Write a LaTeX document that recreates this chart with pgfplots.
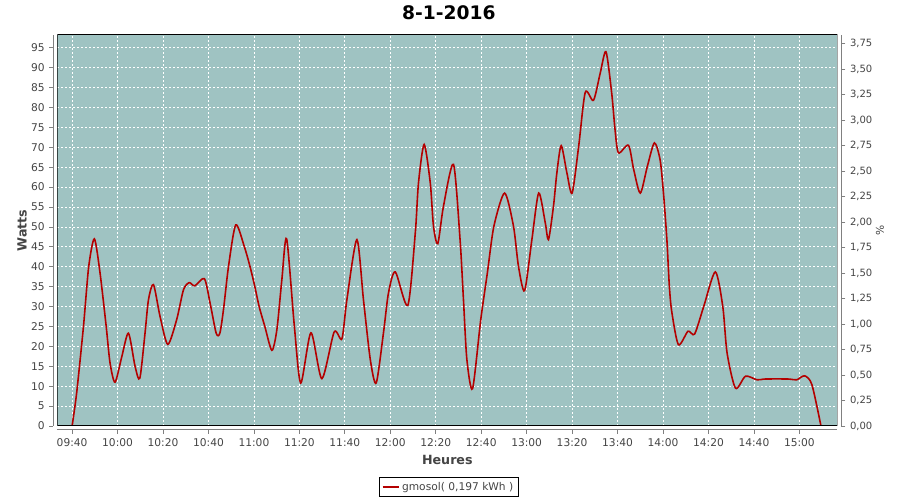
\documentclass[border=0pt]{standalone}
\usepackage{pgfplots}
\usepackage{pgfplotstable}
\pgfplotsset{compat=1.18}
\usepackage{fontspec}
\setmainfont{DejaVu Sans}
\definecolor{bg}{RGB}{159,195,194}
\definecolor{ln}{RGB}{180,0,0}
\definecolor{tk}{RGB}{68,68,68}
\definecolor{axg}{RGB}{128,128,128}

\pgfplotstableread{
t w
580 0
582 8.3
585 25
587.3 40
589.8 47
592.3 38.4
595 25
596.7 15.8
598.9 11
601.9 17.5
604.8 23.3
607.7 15
609.8 12
612.1 23.4
613.6 31.7
615.8 35.5
618.7 27.5
622.1 20.5
626 26.7
629 34.2
631.5 36
634 35.2
638.2 37
640.7 30.9
643.4 23.3
645 23.3
646.6 29.2
648.8 40
652 50.5
655.8 45
658.3 40
660.4 35
662.3 30
664.8 25
667.9 19
670.1 24.2
672.3 36.8
674.4 47
677.8 25
680.6 10.8
685.1 23.4
689.9 11.9
695.3 23.6
698.7 21.9
700.9 31.7
705.3 46.8
708.2 31.7
711.2 16.7
713.8 10.8
717 23.4
719.2 33.4
722.2 38.7
727.7 30.3
731 48.5
732.4 61
734.9 70.7
737.6 61
739 50.2
740.9 45.8
743.4 55.2
747.8 65.7
750.7 46.8
752.2 31.7
753.7 16.7
756.2 9.4
759.8 26.7
762.7 38.4
765.6 50.2
770.3 58.5
774.2 50.2
776.4 40.1
779.1 34
782.3 46.8
785.3 58.5
788.2 51
789.6 46.8
791.8 55.2
793.3 63.6
795.2 70.4
797.7 63.6
800 58.5
802.9 70.3
805.8 83.8
809.4 81.8
812.4 88.7
814.9 94
817.4 83.7
818.9 74.4
820.4 68.6
824.8 70.5
827.1 64.4
830 58.5
833.1 65.2
836.2 71.1
838.7 66.9
840.2 58.5
841.7 46.8
842.8 35
843.9 28.5
846.8 20.4
851 23.8
853.9 23.1
857.9 30
863 38.7
866.3 30
868.2 18.3
871.9 9.5
876.3 12.5
881.4 11.6
885 11.8
895 11.8
898.8 11.6
902.3 12.6
905.5 10.4
909.5 0
}\data

\begin{document}
\begin{tikzpicture}
\begin{axis}[
  name=main,
  scale only axis, width=585pt, height=293.25pt,
  xmin=573.5, xmax=916.7, ymin=0, ymax=98.2,
  axis background/.style={fill=bg},
  axis lines*=left,
  axis line style={axg, line width=0.75pt, -},
  axis x line shift=3pt, axis y line shift=3pt,
  xtick={580,600,...,900},
  xticklabels={09:40,10:00,10:20,10:40,11:00,11:20,11:40,12:00,12:20,12:40,13:00,13:20,13:40,14:00,14:20,14:40,15:00},
  ytick={0,5,...,95},
  grid=major,
  major grid style={white, line width=0.6pt, dash pattern=on 1.5pt off 1.5pt},
  tick align=outside, major tick length=3pt,
  tick style={axg, line width=0.6pt},
  /pgf/number format/assume math mode=true,
  every tick label/.append style={font=\fontsize{8}{9}\selectfont, text=tk},
  xlabel={Heures}, ylabel={Watts},
  xlabel style={at={(axis description cs:0.5,-0.0862)}, anchor=center, inner sep=0pt, font=\fontsize{9.5}{11}\selectfont\bfseries, text=tk},
  ylabel style={at={(axis description cs:-0.0453,0.5)}, anchor=center, inner sep=0pt, font=\fontsize{9.5}{11}\selectfont\bfseries, text=tk},
  title={8-1-2016},
  every axis title shift=0pt,
  title style={at={(axis description cs:0.502,1.0575)}, anchor=center, inner sep=0pt, font=\fontsize{14}{16}\selectfont\bfseries},
  legend style={at={(0.502,-0.1565)}, anchor=center, draw=black, line width=0.75pt, fill=white,
    font=\fontsize{8}{9}\selectfont, text=tk, inner xsep=2pt, inner ysep=1.5pt},
  legend image code/.code={\draw[#1] (0pt,0pt) -- (12pt,0pt);},
]
\addplot[ln, line width=1.2pt, smooth, tension=0.45] table[x=t,y=w]{\data};
\addlegendentry{gmosol( 0,197 kWh )}
\draw[black, line width=0.75pt] (rel axis cs:0,0) rectangle (rel axis cs:1,1);
\coordinate (sw) at (rel axis cs:0,0);
\end{axis}
\begin{axis}[
  scale only axis, width=585pt, height=293.25pt,
  xmin=573.5, xmax=916.7, ymin=0, ymax=3.837,
  axis x line=none, axis y line*=right,
  axis line style={axg, line width=0.75pt, -},
  axis y line shift=3pt,
  ytick={0,0.25,0.5,0.75,1,1.25,1.5,1.75,2,2.25,2.5,2.75,3,3.25,3.5,3.75},
  yticklabel style={/pgf/number format/.cd, fixed, fixed zerofill, precision=2, use comma, assume math mode=true},
  tick align=outside, major tick length=3pt,
  tick style={axg, line width=0.6pt},
  every tick label/.append style={font=\fontsize{7.5}{9}\selectfont, text=tk},
  ylabel={\%},
  ylabel style={at={(axis description cs:1.0547,0.5)}, anchor=center, inner sep=0pt, font=\fontsize{8}{9}\selectfont, text=tk},
]
\addplot[draw=none] coordinates {(580,0)};
\end{axis}
\path ([shift={(-43pt,-55.3pt)}]sw) rectangle ([shift={(632pt,319.5pt)}]sw);
\end{tikzpicture}
\end{document}
